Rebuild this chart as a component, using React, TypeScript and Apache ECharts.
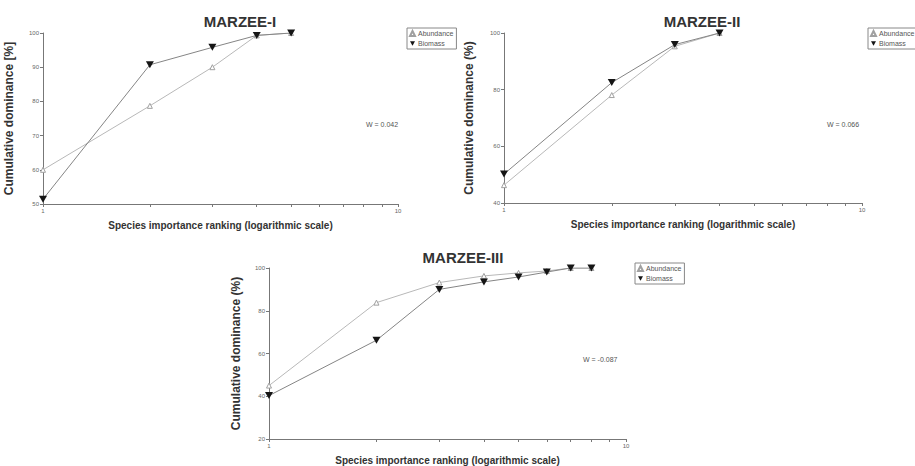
import React, { useEffect, useRef } from "react";
import * as echarts from "echarts";

const titles = ["MARZEE-I", "MARZEE-II", "MARZEE-III"];
const wLabels = ["W = 0.042", "W = 0.066", "W = -0.087"];
const yNames = ["Cumulative dominance [%]", "Cumulative dominance (%)", "Cumulative dominance (%)"];
const xName = "Species importance ranking (logarithmic scale)";
const seriesNames = ["Abundance", "Biomass"];

const ranksI = [1, 2, 3, 4, 5];
const abundI = [60, 78.7, 90, 99.3, 100];
const biomI = [51.4, 90.7, 95.8, 99.3, 100];

const ranksII = [1, 2, 3, 4];
const abundII = [46.3, 78.1, 95.3, 100];
const biomII = [50.2, 82.5, 95.9, 100];

const ranksIII = [1, 2, 3, 4, 5, 6, 7, 8];
const abundIII = [45, 83.8, 93.2, 96.3, 97.7, 98.6, 100, 100];
const biomIII = [40.3, 66.2, 90, 93.5, 95.8, 98.1, 100, 100];

const xTicks = [1, 2, 3, 4, 5, 6, 7, 8, 9, 10];
const xLabels = [1, 10];
const yRanges = [
  [50, 100, 10],
  [40, 100, 20],
  [20, 100, 20],
];

const FONT = "'Liberation Sans Narrow', 'Liberation Sans', Arial, sans-serif";
const INV_TRI = "path://M0,0 L10,0 L5,9 Z";

export default function App() {
  const ref = useRef<HTMLDivElement>(null);
  useEffect(() => {
    document.body.style.margin = "0";
    const chart = echarts.init(ref.current!, null, { renderer: "svg" });
    const grids = [
      { left: 43, top: 33, width: 355, height: 171 },
      { left: 504, top: 33, width: 358, height: 170 },
      { left: 269, top: 268, width: 357, height: 173 },
    ];
    const titlePos = [
      { left: 235, top: 9 },
      { left: 697, top: 9 },
      { left: 458, top: 245 },
    ];
    const legendPos = [
      { left: 407, top: 28 },
      { left: 868, top: 28 },
      { left: 635, top: 263 },
    ];
    const wPos = [
      { x: 366, y: 121 },
      { x: 827, y: 121 },
      { x: 583, y: 356 },
    ];
    const nameGapY = [28, 29, 27];
    const data = [
      [ranksI, abundI, biomI],
      [ranksII, abundII, biomII],
      [ranksIII, abundIII, biomIII],
    ];
    const series: any[] = [];
    data.forEach(([r, a, b], i) => {
      series.push({
        name: seriesNames[0],
        type: "line",
        xAxisIndex: i,
        yAxisIndex: i,
        data: r.map((x, k) => [x, a[k]]),
        symbol: "triangle",
        symbolSize: 5,
        lineStyle: { color: "#b8b8b8", width: 1 },
        itemStyle: { color: "#ffffff", borderColor: "#a0a0a0", borderWidth: 1 },
        z: 2,
      });
      series.push({
        name: seriesNames[1],
        type: "line",
        xAxisIndex: i,
        yAxisIndex: i,
        data: r.map((x, k) => [x, b[k]]),
        symbol: INV_TRI,
        symbolSize: [8, 7],
        lineStyle: { color: "#858585", width: 1 },
        itemStyle: { color: "#151515" },
        z: 3,
      });
    });
    const option: any = {
      animation: false,
      backgroundColor: "#ffffff",
      textStyle: { fontFamily: FONT },
      title: titles.map((t, i) => ({
        text: t,
        left: titlePos[i].left,
        top: titlePos[i].top,
        textAlign: "center",
        textStyle: { fontFamily: FONT, fontSize: 15, fontWeight: "bold", color: "#333" },
      })),
      legend: legendPos.map((p) => ({
        data: [
          { name: seriesNames[0], icon: "triangle" },
          { name: seriesNames[1], icon: INV_TRI },
        ],
        left: p.left,
        top: p.top,
        orient: "vertical",
        itemWidth: 5,
        itemHeight: 5,
        itemGap: 3,
        padding: [2, 3, 2, 2],
        borderColor: "#888",
        borderWidth: 1,
        selectedMode: false,
        textStyle: { fontFamily: FONT, fontSize: 7, color: "#555", padding: [0, 0, 0, -2] },
      })),
      grid: grids,
      xAxis: grids.map((_, i) => ({
        type: "log",
        logBase: 10,
        gridIndex: i,
        min: 1,
        max: 10,
        name: xName,
        nameLocation: "middle",
        nameGap: 16,
        nameTextStyle: { fontFamily: FONT, fontSize: 10, fontWeight: "bold", color: "#333" },
        axisLine: { show: true, onZero: false, lineStyle: { color: "#777", width: 1 } },
        axisTick: { show: true, length: 3, customValues: xTicks, lineStyle: { color: "#777" } },
        axisLabel: { customValues: xLabels, fontSize: 6, color: "#666", margin: 4 },
        splitLine: { show: false },
        minorTick: { show: false },
      })),
      yAxis: grids.map((_, i) => ({
        type: "value",
        gridIndex: i,
        min: yRanges[i][0],
        max: yRanges[i][1],
        interval: yRanges[i][2],
        name: yNames[i],
        nameLocation: "middle",
        nameGap: nameGapY[i],
        nameTextStyle: { fontFamily: FONT, fontSize: 12, fontWeight: "bold", color: "#333" },
        axisLine: { show: true, lineStyle: { color: "#777", width: 1 } },
        axisTick: { show: true, length: 3, lineStyle: { color: "#777" } },
        axisLabel: { fontSize: 6, color: "#666", margin: 4 },
        splitLine: { show: false },
      })),
      graphic: wLabels.map((t, i) => ({
        type: "text",
        x: wPos[i].x,
        y: wPos[i].y,
        style: { text: t, fontFamily: FONT, fontSize: 7, fill: "#555" },
      })),
      series,
    };
    chart.setOption(option);
    return () => chart.dispose();
  }, []);
  return <div ref={ref} style={{ width: 915, height: 466 }} />;
}
